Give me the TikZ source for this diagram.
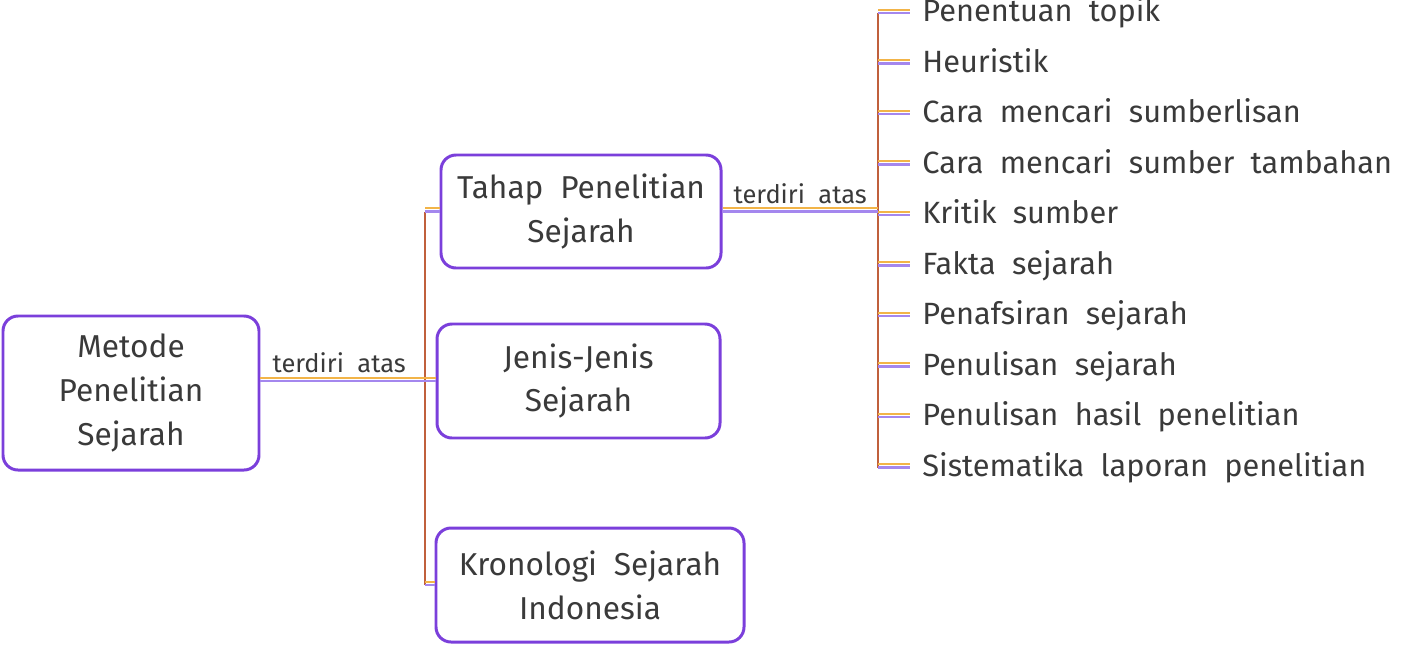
\documentclass[tikz,border=0pt]{standalone}
\usepackage{fontspec}
\setmainfont{Fira Sans}[WordSpace=2]
\definecolor{boxviolet}{HTML}{7B3FDB}
\definecolor{linkorange}{HTML}{F2B448}
\definecolor{linkviolet}{HTML}{A487EE}
\definecolor{trunkbrown}{HTML}{C0603C}
\definecolor{inktext}{HTML}{3A3A3A}
\begin{document}
\begin{tikzpicture}[
  topic/.style={draw=boxviolet, line width=1.7pt, rounded corners=0.3cm,
    align=center, text=inktext, font=\fontsize{18}{25}\selectfont,
    minimum height=2.28cm},
  link/.style={draw=linkviolet, line width=1.3pt,
    preaction={draw=linkorange, line width=1.3pt, transform canvas={yshift=1.8pt}}},
  trunk/.style={draw=trunkbrown, line width=1.5pt},
  linklabel/.style={font=\fontsize{14.5}{16}\selectfont, text=inktext, above, inner sep=4pt},
  item/.style={anchor=west, font=\fontsize{17.5}{20}\selectfont, text=inktext,
    inner ysep=0pt, inner xsep=0.24cm, text height=1em, text depth=0pt}
]
\useasboundingbox (0,0) rectangle (28.06,-12.96);

\node[topic, minimum width=5.12cm, minimum height=3.08cm] (metode) at (2.62,-7.86)
  {Metode\\Penelitian\\Sejarah};
\node[topic, minimum width=5.6cm, minimum height=2.26cm] (tahap) at (11.62,-4.23)
  {Tahap Penelitian\\Sejarah};
\node[topic, minimum width=5.66cm] (jenis) at (11.57,-7.62)
  {Jenis-Jenis\\Sejarah};
\node[topic, minimum width=6.16cm] (kronologi) at (11.8,-11.7)
  {Kronologi Sejarah\\Indonesia};

\coordinate (forktop) at (8.5,0 |- tahap.west);
\coordinate (forkbot) at (8.5,0 |- kronologi.west);
\draw[trunk] (forktop) -- (forkbot);
\draw[link] (metode.east |- jenis.west) -- node[linklabel, pos=0.45]{terdiri atas} (jenis.west);
\draw[link] (forktop) -- (tahap.west);
\draw[link] (forkbot) -- (kronologi.west);

\foreach \txt [count=\i] in {Penentuan topik, Heuristik, Cara mencari sumberlisan,
    Cara mencari sumber tambahan, Kritik sumber, Fakta sejarah, Penafsiran sejarah,
    Penulisan sejarah, Penulisan hasil penelitian, Sistematika laporan penelitian}
  \node[item] (item\i) at (18.2,{-0.26-1.01*(\i-1)}) {\txt};

\draw[trunk] (17.56,0 |- item1.west) -- (17.56,0 |- item10.west);
\draw[link] (tahap.east) -- node[linklabel]{terdiri atas} (17.56,0 |- tahap.east);
\foreach \i in {1,...,10}
  \draw[link] (17.56,0 |- item\i.west) -- (item\i.west);
\end{tikzpicture}
\end{document}
